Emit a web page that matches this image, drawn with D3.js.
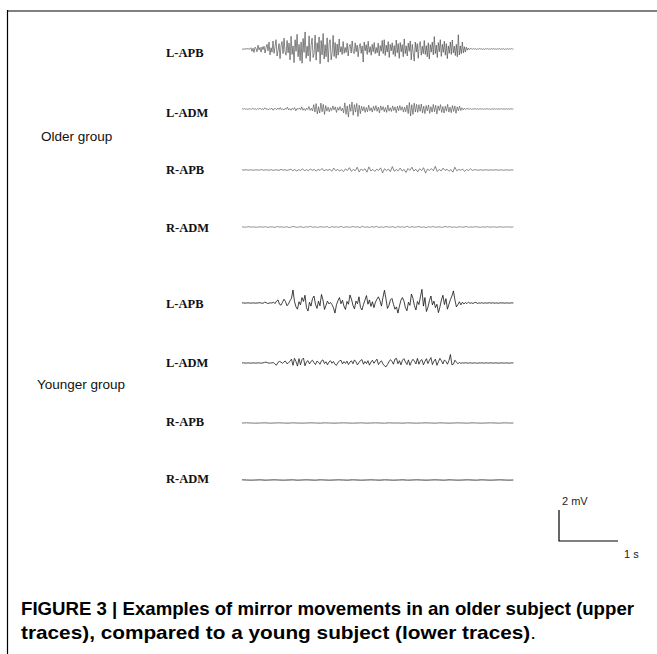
<!DOCTYPE html>
<html>
<head>
<meta charset="utf-8">
<script src="https://cdn.jsdelivr.net/npm/d3@7"></script>
<style>
  html, body { margin: 0; padding: 0; background: #fff; }
  svg { display: block; }
</style>
</head>
<body>
<script>
// EMG recordings of mirror movements, amplitudes in hundredths of a millivolt.
// Every recording spans the same window and is sampled evenly across it.
const muscles = ["L-APB", "L-ADM", "R-APB", "R-ADM"];
const groupNames = ["Older group", "Younger group"];
const recordingSeconds = 4.6;
const scaleBarSeconds = 1;
const scaleBarMillivolts = 2;
const scaleBarLabels = ["2 mV", "1 s"];
const captionBold = "FIGURE 3 | Examples of mirror movements in an older subject (upper";
const captionLine2 = "traces), compared to a young subject (lower traces)";

// Older subject
const olderLAPB = [
  2,-3,1,-2,4,-1,3,-2,1,
  8,-15,5,-22,12,3,-18,25,-6,10,-20,14,-4,18,-26,9,
  30,-12,45,-38,8,-20,52,-28,15,60,-45,-10,35,-62,22,48,-30,70,-18,-40,55,-25,38,
  -70,82,-35,20,-88,60,-15,95,-50,30,-75,45,-92,68,-22,110,-60,18,-45,85,
  -80,25,70,-55,-30,90,-72,40,-20,78,-95,55,-38,100,-65,28,-50,72,-85,35,60,-70,-25,88,-48,42,-60,
  32,-40,65,-20,15,-35,48,-28,10,-22,38,-45,18,30,-26,52,-15,-30,40,-18,
  25,-50,12,35,-28,20,-84,45,-12,28,-35,50,-22,15,-40,30,-18,42,-30,10,-25,38,-45,22,-15,55,
  -30,60,-42,25,-20,48,-55,30,-12,40,-35,22,-48,58,-25,35,-60,42,-18,28,
  -50,65,-30,20,-45,38,-15,52,-70,30,-25,-78,45,-20,35,-60,25,48,-40,18,
  -30,55,-35,22,-50,40,-65,28,-20,45,-38,80,-30,25,-55,42,-18,60,-48,30,
  -22,50,-40,35,-62,20,-28,45,-35,58,-25,18,-42,30,-50,92,-38,20,-30,45,
  -25,15,-20,12,-8,6,-4,3,
  2,-2,3,-1,2,-3,1,-2,4,-1,2,-2,1,-3,2,-1,3,-2,1,-1,
  2,-2,3,-1,1,-2,2,-1,3,-2,1,-1,2,-3,1,-2,2,-1,1,-2,3,-1,1
];
const olderLADM = [
  2,-1,3,-2,1,-3,2,0,-2,4,-1,2,-5,3,-2,6,-3,1,-4,8,-2,3,-6,2,-1,5,-8,3,2,-4,
  6,-3,10,-5,2,-7,4,-2,12,-6,3,-8,5,-3,9,-12,4,-2,7,-5,14,-8,3,-10,6,-4,16,-9,5,-12,
  28,-20,35,-32,15,-26,38,-18,30,-35,22,-14,
  12,-18,8,-10,20,-6,14,-22,10,-8,16,-12,6,
  -25,40,-35,20,-52,30,-15,45,-40,28,-20,36,-48,25,-30,18,-12,
  15,-22,10,-18,25,-12,8,-20,18,-10,22,-15,12,-25,20,-8,16,-18,10,-22,
  26,-14,8,-16,20,-10,14,-24,18,-12,22,-8,15,-20,12,-18,25,
  -30,42,-45,28,-35,38,-20,30,
  -22,28,-15,32,-25,18,-30,22,-12,26,-28,15,-20,30,-18,24,-32,20,-10,28,
  -22,16,-26,18,-14,30,-20,12,-24,22,-16,20,-28,14,-12,18,-10,8,-6,5,-4,3,
  2,-1,2,-2,1,-1,3,-1,1,-2,2,-1,1,-2,1,-1,2,-1,1,-3,
  2,-1,1,-1,2,-2,1,-1,2,-1,1,-2,2,-1,1,-1,2,-1,1
];
const olderRAPB = [
  1,-1,2,-1,0,1,-2,1,0,-1,3,-2,1,0,-1,2,-3,1,0,-2,4,-1,2,-3,1,
  5,-4,3,-6,2,-3,8,-5,2,-4,6,-2,3,-7,4,-3,10,-6,3,-2,5,-8,12,-4,3,-6,2,-10,7,-3,
  15,-8,4,-5,18,-12,6,-3,8,-14,20,-6,4,-9,5,-3,14,-18,8,-4,6,-10,22,-8,3,-5,12,-6,4,-16,
  10,-3,18,-7,5,-12,8,-4,15,-20,6,-3,9,-5,24,-10,4,-6,12,-3,5,-8,3,-14,18,-5,4,-2,6,-9,3,-4,8,-3,2,
  1,-2,1,0,-1,2,-1,0,1,-1,2,-1,0,1,-2,1,0,-1,1,0
];
const olderRADM = [
  1,-1,0,2,-1,1,-2,0,1,-1,2,-3,1,0,-2,3,-1,1,-2,2,-4,1,3,-2,0,2,-3,1,-1,4,
  -2,1,-3,2,0,-1,3,-4,2,-1,1,-2,4,-3,1,0,-2,3,-1,2,-4,5,-2,1,-3,2,-1,4,-3,1,
  -2,3,-1,0,2,-4,3,-1,1,-2,5,-3,2,-1,0,3,-2,1,-4,2,-1,3,-2,1,0,-3,4,-1,2,-2,
  1,-3,2,0,-1,3,-2,1,-1,2,0,-2,1,-1,2,-1,0,1,-2,1,0,-1,1,0,-1,1
];

// Younger subject
const youngerLAPB = [
  0,1,-1,0,1,0,-1,1,0,-1,0,1,2,-1,-2,5,3,-3,-1,1,0,
  6,-4,12,20,-8,-14,5,24,10,-18,-6,15,30,
  84,10,
  -25,-40,8,-12,35,10,50,-30,-52,5,-20,28,45,-8,-35,12,-18,55,20,-42,-15,12,-6,
  4,-10,-30,-65,-12,
  15,35,-5,18,-20,-42,10,-8,52,25,-15,-38,12,-5,40,-28,-45,-10,18,48,-8,20,-22,8,-30,5,25,
  40,15,-20,35,82,28,-35,-15,20,
  30,-8,-40,-25,-65,-20,18,35,
  12,-30,-50,5,-15,58,30,-18,-45,10,-10,40,88,-20,35,-55,-28,15,45,-12,
  12,-30,-8,-62,-25,20,50,-10,28,-40,-8,22,
  45,78,20,-25,-10,
  8,-12,5,-6,3,-4,6,-2,1,-3,2,4,-3,1,-1,2,-2,1,0,-1,
  2,-1,1,0,-1,1,-2,1,0,1,-1,0,1,-1,0,1,0
];
const youngerLADM = [
  0,1,0,-1,1,0,-1,0,1,-1,0,1,0,-1,1,4,6,2,-1,0,1,
  3,-8,-14,4,10,6,-3,8,12,-5,2,10,
  25,-15,30,10,-20,28,-12,22,32,-18,8,
  15,-6,10,18,2,-10,12,5,-8,14,20,-4,8,-12,6,15,-2,10,-8,-15,
  4,12,18,-6,9,-3,12,-10,6,14,-5,20,8,-12,3,16,22,-8,10,-4,
  15,-14,6,18,-2,12,25,-10,5,14,
  -6,-18,-25,-10,8,
  22,10,-8,25,30,-5,15,-12,18,28,6,-10,20,-15,8,24,12,-6,30,-8,
  15,22,-12,10,28,-4,18,35,-10,12,25,-15,8,30,14,-6,20,10,-8,15,
  55,-12,-8,18,6,-5,3,
  -2,1,-1,2,0,-1,1,0,-1,1,0,-2,1,0,1,-1,0,1,-1,0,
  1,0,-1,1,0,-1,0,1,0,-1,1,0,-1,0,1,0
];
const youngerRAPB = [
  0,1,0,-1,0,1,-1,0,1,0,-1,1,0,-1,0,1,0,-1,1,0,
  -1,0,1,0,-1,0,1,-1,0,1,0,-1,1,0,0,-1,1,0,-1,0,
  1,0,-1,1,0,-1,0,1,0,-1,1,0,-1,0,1,0,-1,1,0,0
];
const youngerRADM = [
  1,0,-1,0,1,-1,0,1,0,-1,0,1,-1,0,1,0,-1,1,0,-1,
  0,1,0,-1,1,0,-1,0,1,0,-1,1,0,-1,0,1,-1,0,1,0,
  -1,0,1,0,-1,1,0,-1,0,1,0,-1,1,0,-1,0,1,0,-1,0
];

const olderTraces = [olderLAPB, olderLADM, olderRAPB, olderRADM];
const youngerTraces = [youngerLAPB, youngerLADM, youngerRAPB, youngerRADM];

// ---- layout ----
const W = 657, H = 654;
const traceLeft = 242, pxPerSecond = 59, pxPerMillivolt = 15.5;
const rows = [
  { baselines: [49, 109, 170, 227], labelY: [57, 117, 174, 232], groupY: 141, groupX: 41 },
  { baselines: [303, 363, 423, 480], labelY: [308, 367, 426, 483], groupY: 389, groupX: 37 }
];
const traceStyles = [
  [{ c: "#3a3a3a", w: 0.6 }, { c: "#444", w: 0.6 }, { c: "#555", w: 0.7 }, { c: "#777", w: 0.8 }],
  [{ c: "#111", w: 0.8 }, { c: "#1a1a1a", w: 0.8 }, { c: "#777", w: 1 }, { c: "#444", w: 1 }]
];

const svg = d3.select("body").append("svg")
  .attr("width", W).attr("height", H)
  .attr("viewBox", `0 0 ${W} ${H}`);

// frame: grey rule on top, black rule on the left
svg.append("line").attr("x1", 7).attr("x2", W).attr("y1", 11).attr("y2", 11)
  .attr("stroke", "#808080").attr("stroke-width", 2);
svg.append("line").attr("x1", 7.5).attr("x2", 7.5).attr("y1", 10).attr("y2", H)
  .attr("stroke", "#000").attr("stroke-width", 1.2);

const x = d3.scaleLinear().domain([0, recordingSeconds])
  .range([traceLeft, traceLeft + recordingSeconds * pxPerSecond]);

[olderTraces, youngerTraces].forEach((traces, gi) => {
  const row = rows[gi];
  svg.append("text")
    .attr("x", row.groupX).attr("y", row.groupY)
    .attr("font-family", "'Liberation Sans', Arial, sans-serif")
    .attr("font-size", 13.5).attr("fill", "#111")
    .text(groupNames[gi]);

  traces.forEach((values, mi) => {
    const base = row.baselines[mi];
    const y = d3.scaleLinear().domain([-1, 1])
      .range([base + pxPerMillivolt, base - pxPerMillivolt]);
    const dt = recordingSeconds / (values.length - 1);
    const line = d3.line()
      .x((d, i) => x(i * dt))
      .y(d => y(d / 100));
    const st = traceStyles[gi][mi];
    svg.append("path")
      .datum(values)
      .attr("d", line)
      .attr("fill", "none")
      .attr("stroke", st.c)
      .attr("stroke-width", st.w)
      .attr("stroke-linejoin", "round");

    svg.append("text")
      .attr("x", 166).attr("y", row.labelY[mi])
      .attr("font-family", "'Liberation Serif', 'Times New Roman', serif")
      .attr("font-weight", "bold")
      .attr("font-size", 12.5).attr("fill", "#111")
      .text(muscles[mi]);
  });
});

// scale bar: 2 mV vertical, 1 s horizontal
const barX = 559, barY = 541;
const yBar = d3.scaleLinear().domain([0, scaleBarMillivolts])
  .range([barY, barY - scaleBarMillivolts * pxPerMillivolt]);
const xBar = d3.scaleLinear().domain([0, scaleBarSeconds])
  .range([barX, barX + scaleBarSeconds * pxPerSecond]);
svg.append("path")
  .attr("d", `M${barX},${yBar(scaleBarMillivolts)}V${yBar(0)}H${xBar(scaleBarSeconds)}`)
  .attr("fill", "none").attr("stroke", "#000").attr("stroke-width", 1.2);
svg.append("text").attr("x", 562).attr("y", 505)
  .attr("font-family", "'Liberation Sans', Arial, sans-serif").attr("font-size", 11)
  .attr("fill", "#222").text(scaleBarLabels[0]);
svg.append("text").attr("x", 624).attr("y", 558)
  .attr("font-family", "'Liberation Sans', Arial, sans-serif").attr("font-size", 11)
  .attr("fill", "#222").text(scaleBarLabels[1]);

// caption, condensed bold
const capFont = "'Liberation Sans Narrow', 'Arial Narrow', 'Liberation Sans', sans-serif";
svg.append("text").attr("x", 21).attr("y", 615)
  .attr("font-family", capFont).attr("font-size", 19).attr("font-weight", "bold")
  .attr("textLength", 613).attr("lengthAdjust", "spacingAndGlyphs")
  .text(captionBold);
const cap2 = svg.append("text").attr("x", 21).attr("y", 639)
  .attr("font-family", capFont).attr("font-size", 19)
  .attr("textLength", 515).attr("lengthAdjust", "spacingAndGlyphs");
cap2.append("tspan").attr("font-weight", "bold").text(captionLine2);
cap2.append("tspan").attr("font-weight", "normal").text(".");
</script>
</body>
</html>
